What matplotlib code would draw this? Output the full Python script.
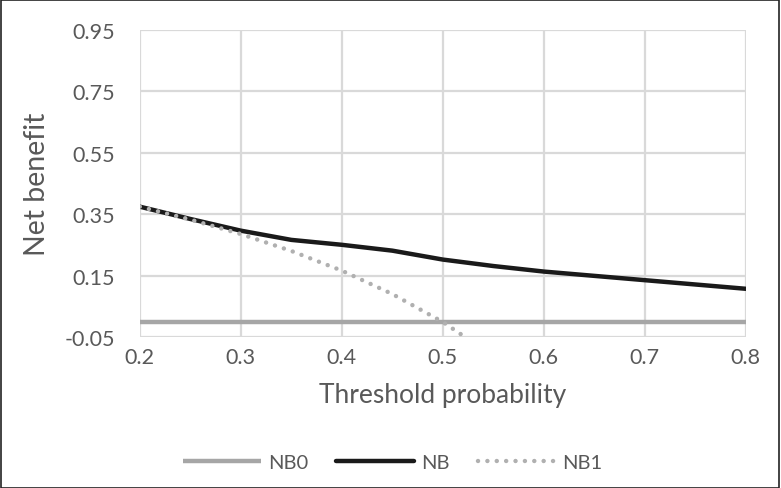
import matplotlib
matplotlib.use("Agg")
import matplotlib.pyplot as plt
from matplotlib.patches import Rectangle

plt.rcParams['font.family'] = ['Lato', 'DejaVu Sans']

# Data
threshold = [0.2, 0.25, 0.3, 0.35, 0.4, 0.45, 0.5, 0.55, 0.6, 0.65, 0.7, 0.75, 0.8]
nb0 = [0, 0, 0, 0, 0, 0, 0, 0, 0, 0, 0, 0, 0]
nb = [0.375, 0.335, 0.297, 0.267, 0.251, 0.232, 0.203, 0.182, 0.164, 0.150, 0.136, 0.122, 0.108]
nb1_x = [0.2, 0.25, 0.3, 0.35, 0.4, 0.45, 0.5, 0.55]
nb1 = [0.375, 0.333, 0.286, 0.231, 0.167, 0.091, 0.0, -0.111]

x_ticks = [0.2, 0.3, 0.4, 0.5, 0.6, 0.7, 0.8]
y_ticks = [-0.05, 0.15, 0.35, 0.55, 0.75, 0.95]

text_col = '#595959'
grid_col = '#d9d9d9'

fig = plt.figure(figsize=(7.81, 4.89), dpi=100)
ax = fig.add_axes([0.179, 0.308, 0.776, 0.629])

ax.plot(threshold, nb0, color='#a6a6a6', lw=3.2, label='NB0', solid_capstyle='butt', zorder=3)
ax.plot(threshold, nb, color='#1a1a1a', lw=3.2, label='NB', solid_capstyle='round', zorder=4)
ax.plot(nb1_x, nb1, color='#b0b0b0', lw=3.2, linestyle=(0, (0.01, 2.1)),
        dash_capstyle='round', label='NB1', zorder=5)

ax.set_xlim(0.2, 0.8)
ax.set_ylim(-0.05, 0.95)
ax.set_xticks(x_ticks)
ax.set_yticks(y_ticks)
ax.set_xticklabels([f'{v:g}' for v in x_ticks])
ax.set_yticklabels([f'{v:.2f}' for v in y_ticks])
ax.tick_params(length=0, labelsize=15.5, labelcolor=text_col)
ax.tick_params(axis='y', pad=18)
ax.tick_params(axis='x', pad=7)
ax.grid(True, color=grid_col, lw=1.6, zorder=0)
ax.set_axisbelow(True)
for s in ax.spines.values():
    s.set_visible(False)

ax.set_xlabel('Threshold probability', fontsize=19, color=text_col, labelpad=11)
ax.set_ylabel('Net benefit', fontsize=20.5, color=text_col, labelpad=10)

leg = fig.legend(loc='center', bbox_to_anchor=(0.503, 0.053), ncol=3, frameon=False,
                 fontsize=14.5, handlelength=3.85, columnspacing=1.4, handletextpad=0.35)
for t in leg.get_texts():
    t.set_color(text_col)

fig.patches.append(Rectangle((0.001, 0.001), 0.997, 0.997, transform=fig.transFigure,
                             fill=False, edgecolor='#222222', lw=1.2))

fig.savefig('out.png', dpi=100, facecolor='white')
